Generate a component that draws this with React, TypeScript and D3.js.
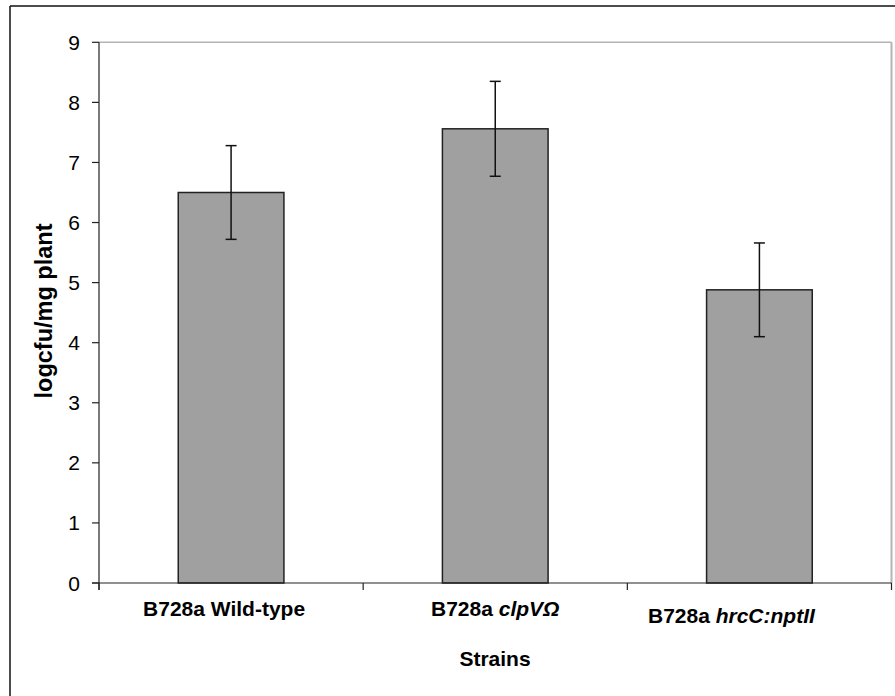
import React from "react";
import * as d3 from "d3";

const categories = ["wt", "clpV", "hrcC"];
const values = [6.5, 7.56, 4.88];
const errors = [0.78, 0.79, 0.78];
const yTicks = [0, 1, 2, 3, 4, 5, 6, 7, 8, 9];
const labelPrefix = ["B728a ", "B728a ", "B728a "];
const labelItalic = ["", "clpVΩ", "hrcC:nptII"];
const labelPlain = ["Wild-type", "", ""];
const labelDx = [-7, 0, -28];
const labelDy = [0, 0, 7];
const yTitle = "logcfu/mg plant";
const xTitle = "Strains";

const W = 895;
const H = 696;
const M = { left: 99, right: 891.5, top: 42.3, bottom: 583 };
const FONT = "Arial, 'Liberation Sans', sans-serif";

export default function App() {
  const x = d3.scaleBand<string>().domain(categories).range([M.left, M.right]).padding(0);
  const y = d3.scaleLinear().domain([0, 9]).range([M.bottom, M.top]);
  const bw = x.bandwidth() * 0.4;
  const bandEdges = [...categories.map((c) => x(c) as number), M.right];

  return (
    <svg
      width={W}
      height={H}
      style={{ position: "absolute", left: 0, top: 0, display: "block", background: "#fff" }}
    >
      {/* outer frame */}
      <line x1={10} y1={6} x2={W} y2={6} stroke="#111" strokeWidth={1.5} />
      <line x1={10} y1={6} x2={10} y2={H} stroke="#111" strokeWidth={1.5} />

      {/* plot area border (gray) */}
      <line x1={M.left} y1={y(9)} x2={M.right} y2={y(9)} stroke="#b4b4b4" strokeWidth={1.5} />
      <line x1={M.right} y1={y(9)} x2={M.right} y2={M.bottom} stroke="#b4b4b4" strokeWidth={2} />

      {/* bars */}
      {categories.map((c, i) => {
        const cx = (x(c) as number) + x.bandwidth() / 2;
        return (
          <rect
            key={c}
            x={cx - bw / 2}
            y={y(values[i])}
            width={bw}
            height={y(0) - y(values[i])}
            fill="#a0a0a0"
            stroke="#222"
            strokeWidth={1.5}
          />
        );
      })}

      {/* error bars */}
      {categories.map((c, i) => {
        const cx = (x(c) as number) + x.bandwidth() / 2;
        const hi = y(values[i] + errors[i]);
        const lo = y(values[i] - errors[i]);
        return (
          <g key={c} stroke="#111" strokeWidth={1.5}>
            <line x1={cx} x2={cx} y1={hi} y2={lo} />
            <line x1={cx - 5.5} x2={cx + 5.5} y1={hi} y2={hi} />
            <line x1={cx - 5.5} x2={cx + 5.5} y1={lo} y2={lo} />
          </g>
        );
      })}

      {/* y axis */}
      <line x1={M.left} x2={M.left} y1={y(9)} y2={M.bottom + 7} stroke="#222" strokeWidth={1.2} />
      {yTicks.map((t) => (
        <g key={t}>
          <line x1={M.left - 7} x2={M.left} y1={y(t)} y2={y(t)} stroke="#222" strokeWidth={1.2} />
          <text
            x={80}
            y={y(t)}
            dy="0.36em"
            textAnchor="end"
            fontFamily={FONT}
            fontSize={21}
            fill="#000"
          >
            {t}
          </text>
        </g>
      ))}

      {/* x axis */}
      <line x1={M.left - 7} x2={M.right} y1={M.bottom} y2={M.bottom} stroke="#222" strokeWidth={1.2} />
      {bandEdges.map((e, i) => (
        <line key={i} x1={e} x2={e} y1={M.bottom} y2={M.bottom + 7} stroke="#222" strokeWidth={1.2} />
      ))}
      {categories.map((c, i) => {
        const cx = (x(c) as number) + x.bandwidth() / 2;
        return (
          <text
            key={c}
            x={cx + labelDx[i]}
            y={616 + labelDy[i]}
            textAnchor="middle"
            fontFamily={FONT}
            fontSize={21}
            fontWeight="bold"
            fill="#000"
          >
            <tspan>{labelPrefix[i]}</tspan>
            {labelItalic[i] && <tspan fontStyle="italic">{labelItalic[i]}</tspan>}
            {labelPlain[i] && <tspan>{labelPlain[i]}</tspan>}
          </text>
        );
      })}

      {/* axis titles */}
      <text
        x={495}
        y={666}
        textAnchor="middle"
        fontFamily={FONT}
        fontSize={21}
        fontWeight="bold"
      >
        {xTitle}
      </text>
      <text
        transform={`translate(52, 311) rotate(-90)`}
        textAnchor="middle"
        fontFamily={FONT}
        fontSize={23.5}
        fontWeight="bold"
      >
        {yTitle}
      </text>
    </svg>
  );
}
